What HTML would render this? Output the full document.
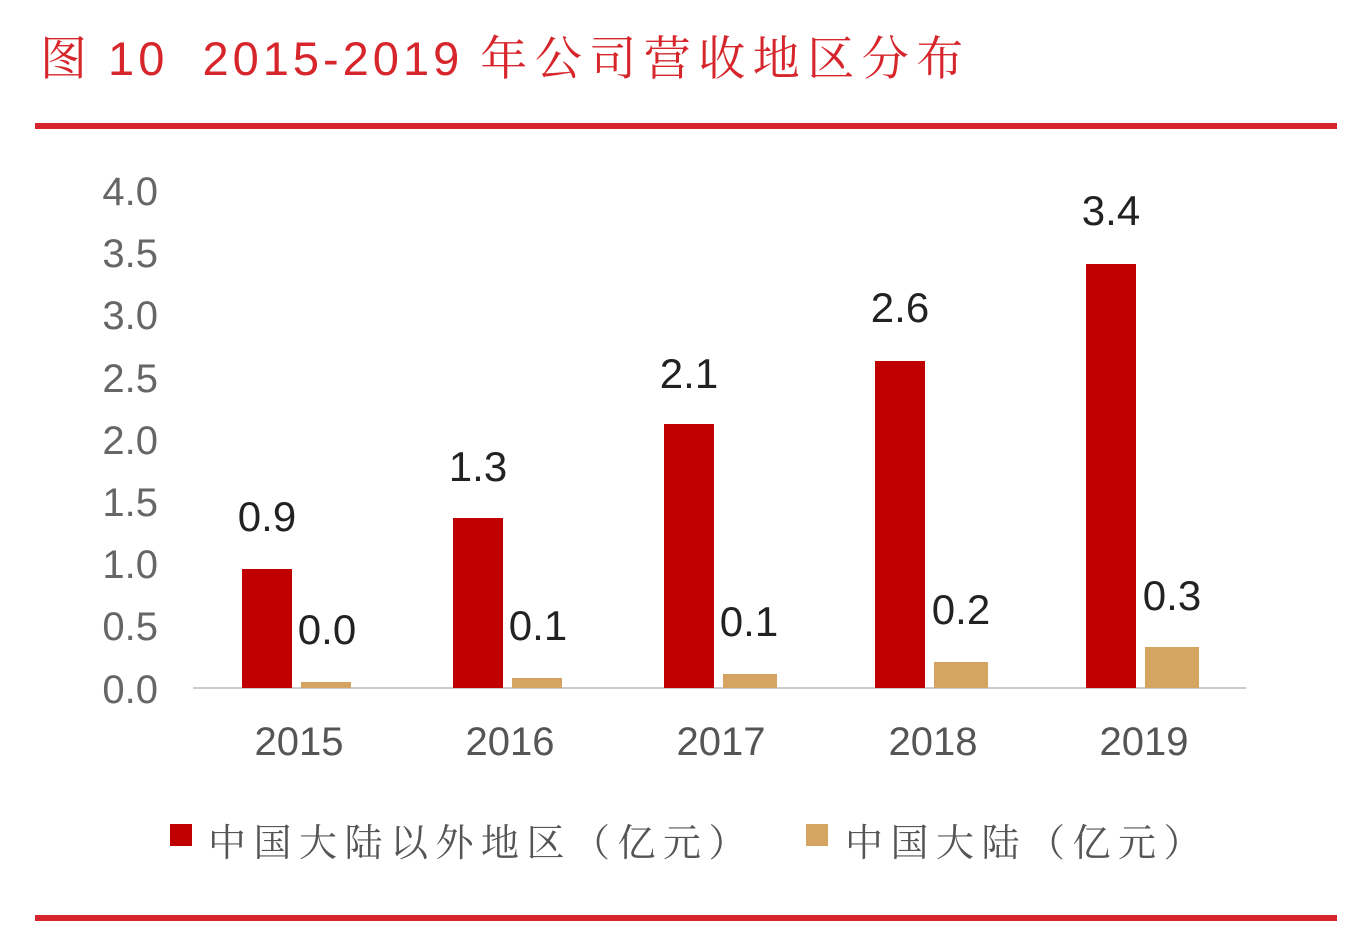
<!DOCTYPE html>
<html><head><meta charset="utf-8"><style>
body{margin:0;background:#fff;width:1358px;height:928px;overflow:hidden;position:relative;font-family:"Liberation Sans","Noto Sans CJK SC",sans-serif}
.a{position:absolute}
</style></head><body>
<div class="a" style="left:40px;top:22px;font-size:47px;color:#d7262b;white-space:nowrap;font-family:'Liberation Sans','Noto Serif CJK SC',sans-serif;letter-spacing:4px">图 10&nbsp;&nbsp;2015-2019 <span style="letter-spacing:7.5px">年公司营收地区分布</span></div>
<div class="a" style="left:35px;top:123px;width:1302px;height:6px;background:#d7262b"></div>
<div class="a" style="left:35px;top:915px;width:1302px;height:6px;background:#d7262b"></div>
<svg class="a" style="left:0;top:0" width="1358" height="928" font-family="Liberation Sans, sans-serif">
<g fill="#666" font-size="40" text-anchor="end">
<text x="158" y="205">4.0</text><text x="158" y="267">3.5</text><text x="158" y="329">3.0</text><text x="158" y="392">2.5</text><text x="158" y="454">2.0</text><text x="158" y="516">1.5</text><text x="158" y="578">1.0</text><text x="158" y="640">0.5</text><text x="158" y="703">0.0</text>
</g>
<line x1="193" y1="688" x2="1246" y2="688" stroke="#ccc" stroke-width="2"/>
<g fill="#c00000">
<rect x="242" y="569" width="50" height="119"/><rect x="453" y="518" width="50" height="170"/><rect x="664" y="424" width="50" height="264"/><rect x="875" y="361" width="50" height="327"/><rect x="1086" y="264" width="50" height="424"/>
</g>
<g fill="#d4a460">
<rect x="301" y="682" width="50" height="6"/><rect x="512" y="678" width="50" height="10"/><rect x="723" y="674" width="54" height="14"/><rect x="934" y="662" width="54" height="26"/><rect x="1145" y="647" width="54" height="41"/>
</g>
<g fill="#222" font-size="42" text-anchor="middle">
<text x="267" y="531">0.9</text><text x="478" y="481">1.3</text><text x="689" y="388">2.1</text><text x="900" y="322">2.6</text><text x="1111" y="225">3.4</text>
<text x="327" y="644">0.0</text><text x="538" y="640">0.1</text><text x="749" y="636">0.1</text><text x="961" y="624">0.2</text><text x="1172" y="610">0.3</text>
</g>
<g fill="#555" font-size="40" text-anchor="middle">
<text x="299" y="755">2015</text><text x="510" y="755">2016</text><text x="721" y="755">2017</text><text x="933" y="755">2018</text><text x="1144" y="755">2019</text>
</g>
<rect x="170" y="824" width="22" height="22" fill="#c00000"/>
<rect x="806" y="824" width="22" height="22" fill="#d4a460"/>
</svg>
<div class="a" style="left:208px;top:812px;font-size:38px;color:#555;white-space:nowrap;letter-spacing:7.5px;font-family:'Liberation Sans','Noto Serif CJK SC',sans-serif">中国大陆以外地区（亿元）</div>
<div class="a" style="left:845px;top:812px;font-size:38px;color:#555;white-space:nowrap;letter-spacing:7.5px;font-family:'Liberation Sans','Noto Serif CJK SC',sans-serif">中国大陆（亿元）</div>
</body></html>
